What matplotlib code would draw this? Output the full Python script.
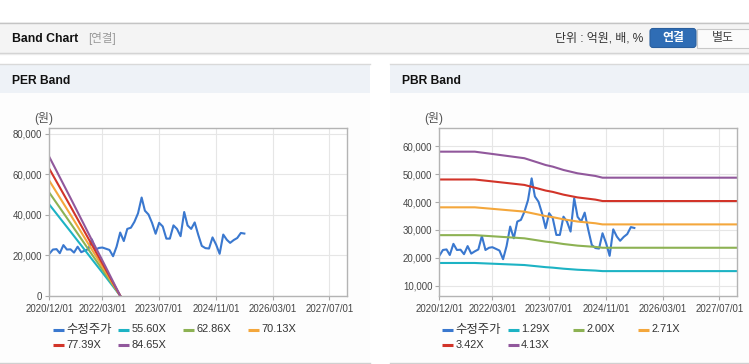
import matplotlib
matplotlib.use('Agg')
import matplotlib.pyplot as plt
from matplotlib.patches import Rectangle, FancyBboxPatch
from matplotlib.ticker import FuncFormatter
import pandas as pd

plt.rcParams['font.family'] = ['Liberation Sans', 'Noto Sans CJK KR', 'DejaVu Sans']

# ---------------- data ----------------
price_label = '수정주가'
price_start = '2020-12-01'
price_values = [20700, 22800, 23000, 21000, 25000, 22800, 22900, 21300, 24200, 21500,
                22300, 23000, 27800, 22800, 23600, 23800, 23200, 22600, 19500, 24200,
                31200, 27000, 33000, 33600, 36500, 40700, 48500, 42000, 40100, 36000,
                30600, 36000, 34200, 28200, 28200, 34750, 33000, 29400, 41350, 34700,
                33000, 36200, 30000, 24600, 23500, 23300, 28800, 25200, 20700, 30200,
                27600, 26100, 27500, 28500, 31000, 30700]

per_multiples = [55.60, 62.86, 70.13, 77.39, 84.65]
per_labels = ['55.60X', '62.86X', '70.13X', '77.39X', '84.65X']
eps_dates = ['2020-12-01', '2021-06-01', '2021-12-01', '2022-04-01', '2022-08-01']
eps_values = [810, 570, 325, 165, 0]

pbr_multiples = [1.29, 2.00, 2.71, 3.42, 4.13]
pbr_labels = ['1.29X', '2.00X', '2.71X', '3.42X', '4.13X']
bps_dates = ['2020-12-01', '2021-10-01', '2022-03-01', '2022-12-01', '2023-04-01',
             '2023-06-01', '2023-08-01', '2023-11-01', '2024-03-01', '2024-08-01',
             '2024-10-01', '2027-12-01']
bps_values = [14060, 14060, 13860, 13490, 13100, 12900, 12760, 12470, 12180, 11950,
              11800, 11800]

x_tick_dates = ['2020-12-01', '2022-03-01', '2023-07-01', '2024-11-01', '2026-03-01', '2027-07-01']
x_tick_labels = ['2020/12/01', '2022/03/01', '2023/07/01', '2024/11/01', '2026/03/01', '2027/07/01']
per_yticks = [0, 20000, 40000, 60000, 80000]
pbr_yticks = [10000, 20000, 30000, 40000, 50000, 60000]

price_color = '#3a78cf'
band_colors = ['#1db3c4', '#8db253', '#f4a73c', '#d23429', '#91589c']

# ---------------- figure ----------------
W, H = 749, 364
fig = plt.figure(figsize=(W / 100, H / 100), dpi=100)
fig.patch.set_facecolor('white')

bg = fig.add_axes([0, 0, 1, 1], zorder=0)
bg.set_xlim(0, W)
bg.set_ylim(H, 0)
bg.axis('off')


def has_hangul(s):
    return any('\uac00' <= ch <= '\ud7a3' for ch in s)


# top header bar
bg.add_patch(Rectangle((0, 22), W, 31, fc='#f4f4f4', ec='none'))
bg.plot([0, W], [22.5, 22.5], color='#c4c4c4', lw=1)
bg.plot([0, W], [53, 53], color='#cfcfcf', lw=1)
bg.plot([0, W], [54.2, 54.2], color='#ebebeb', lw=1)
bg.text(12, 38.5, 'Band Chart', fontsize=8.8, fontweight='bold',
        color='#111111', va='center', ha='left')
bg.text(88, 38.5, '[연결]', fontsize=8.3, color='#999999', va='center', ha='left')
bg.text(643, 38.5, '단위 : 억원, 배, %', fontsize=8.6, color='#333333', va='center', ha='right')
bg.add_patch(FancyBboxPatch((650, 28.5), 46, 19, boxstyle='round,pad=0,rounding_size=3',
                            fc='#2f6db5', ec='#2a5f9e', lw=0.8))
bg.text(673, 38.5, '연결', fontsize=8.6, fontweight='bold', color='white', va='center', ha='center')
bg.add_patch(Rectangle((697, 28.5), 53, 19, fc='#fbfbfb', ec='#c8c8c8', lw=0.8))
bg.text(723, 38.5, '별도', fontsize=8.6, color='#444444', va='center', ha='center')

# panels
for px0, px1, title in [(0, 370, 'PER Band'), (390, W, 'PBR Band')]:
    bg.add_patch(Rectangle((px0, 64), px1 - px0, 299, fc='#fdfdfd', ec='none'))
    bg.add_patch(Rectangle((px0, 64), px1 - px0, 29, fc='#eef2f7', ec='none'))
    bg.plot([px0, px1], [64.3, 64.3], color='#d9d9d9', lw=1)
    bg.plot([px0, px1], [363.3, 363.3], color='#d0d0d0', lw=1)
    bg.text(px0 + 12, 80.5, title, fontsize=8.7, fontweight='bold',
            color='#111111', va='center', ha='left')


def fmt(v, pos):
    return f'{int(round(v)):,}'


def setup_axes(ax, yticks, ylim):
    ax.set_facecolor('white')
    ax.set_xlim(pd.Timestamp('2020-12-01'), pd.Timestamp('2027-12-01'))
    ax.set_ylim(*ylim)
    ax.set_xticks([pd.Timestamp(d) for d in x_tick_dates])
    ax.set_xticklabels(x_tick_labels)
    ax.set_yticks(yticks)
    ax.yaxis.set_major_formatter(FuncFormatter(fmt))
    ax.grid(True, color='#e6e6e6', lw=0.8)
    ax.set_axisbelow(True)
    for s in ax.spines.values():
        s.set_color('#b4b4b4')
        s.set_linewidth(1)
    ax.tick_params(axis='both', length=3, width=0.8, color='#aaaaaa',
                   labelsize=6.9, labelcolor='#444444')
    ax.tick_params(axis='x', pad=3)
    ax.tick_params(axis='y', pad=2)


def draw_legend(x0, labels, colors):
    for i, (lab, col) in enumerate(zip(labels, colors)):
        r, c = divmod(i, 4)
        x = x0 + c * 65.2
        y = 329.5 + r * 15
        bg.plot([x, x + 11], [y, y], color=col, lw=2.2, solid_capstyle='butt')
        size = 8.9 if has_hangul(lab) else 7.9
        bg.text(x + 13.5, y, lab, fontsize=size, va='center', ha='left', color='#333333')


def ax_rect(left_px, top_px, right_px, bottom_px):
    return [left_px / W, 1 - bottom_px / H, (right_px - left_px) / W, (bottom_px - top_px) / H]


price_dates = pd.date_range(price_start, periods=len(price_values), freq='MS')

# PER
ax1 = fig.add_axes(ax_rect(49.3, 128.3, 347.3, 295.7), zorder=2)
setup_axes(ax1, per_yticks, (0, 82700))
ax1.plot(price_dates, price_values, color=price_color, lw=1.5, label=price_label)
eps_d = pd.to_datetime(eps_dates)
for m, col, lab in zip(per_multiples, band_colors, per_labels):
    ax1.plot(eps_d, [m * e for e in eps_values], color=col, lw=1.5, label=lab)
fig.text(44 / W, 1 - 118.5 / H, '(원)', fontsize=8.6, color='#555555', ha='center', va='center')
draw_legend(52.7, [price_label] + per_labels, [price_color] + band_colors)

# PBR
ax2 = fig.add_axes(ax_rect(439.3, 128.3, 737.3, 295.7), zorder=2)
setup_axes(ax2, pbr_yticks, (6400, 66450))
ax2.plot(price_dates, price_values, color=price_color, lw=1.5, label=price_label)
bps_d = pd.to_datetime(bps_dates)
for m, col, lab in zip(pbr_multiples, band_colors, pbr_labels):
    ax2.plot(bps_d, [m * b for b in bps_values], color=col, lw=1.5, label=lab)
fig.text(434 / W, 1 - 118.5 / H, '(원)', fontsize=8.6, color='#555555', ha='center', va='center')
draw_legend(442.3, [price_label] + pbr_labels, [price_color] + band_colors)

fig.savefig('out.png', dpi=100, facecolor='white')
